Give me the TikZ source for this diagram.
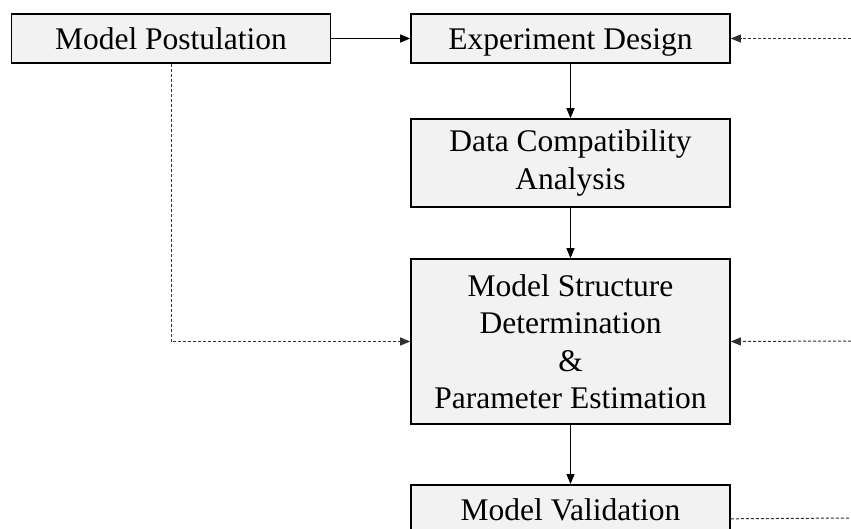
\documentclass[tikz,border=0pt]{standalone}
\usepackage{fontspec}
\setmainfont{Liberation Serif}
\usetikzlibrary{arrows.meta}
\definecolor{boxgray}{HTML}{F2F2F2}
\definecolor{dashgray}{HTML}{303030}

\begin{document}
\begin{tikzpicture}[x=1pt, y=-1pt,
  every node/.style={draw=black, line width=1.6pt, fill=boxgray, minimum width=319pt, minimum height=49pt, inner sep=2pt, align=center, font=\fontsize{31.5}{37.5}\selectfont},
  oneline/.style={text height=25pt, text depth=2pt},
  flow/.style={-{Triangle[length=10pt,width=8pt]}, line width=1pt},
  feedback/.style={-{Triangle[length=10pt,width=8pt]}, line width=1pt, draw=dashgray, dash pattern=on 3pt off 2pt}]
\useasboundingbox (0,0) rectangle (851,529);
\clip (0,0) rectangle (851,529);

% main column
\node[oneline] (mp) at (171,38.5) {Model Postulation};
\node[oneline] (ed) at (570.5,38.5) {Experiment Design};
\node[minimum height=88pt] (dca) at (570.5,163) {Data Compatibility\\Analysis};
\node[minimum height=165pt] (ms) at (570.5,341.5) {Model Structure\\Determination\\\&\\Parameter Estimation};
\node[oneline, anchor=north] (mv) at (570.5,484) {Model Validation};

% loose ends on the right
\coordinate (edin) at (851,38.5);
\coordinate (msin) at (851,341);
\coordinate (mvout) at (851,518);

\draw[flow] (mp) -- (ed);
\draw[flow] (ed) -- (dca);
\draw[flow] (dca) -- (ms);
\draw[flow] (ms) -- (mv);

% feedback paths
\draw[feedback] (mp.south) |- (ms.west);
\draw[feedback] (edin) -- (ed.east);
\draw[feedback] (msin) -- (ms.east);
\draw[feedback, -] ([yshift=-9.5pt]mv.east) -- (mvout);
\end{tikzpicture}
\end{document}
